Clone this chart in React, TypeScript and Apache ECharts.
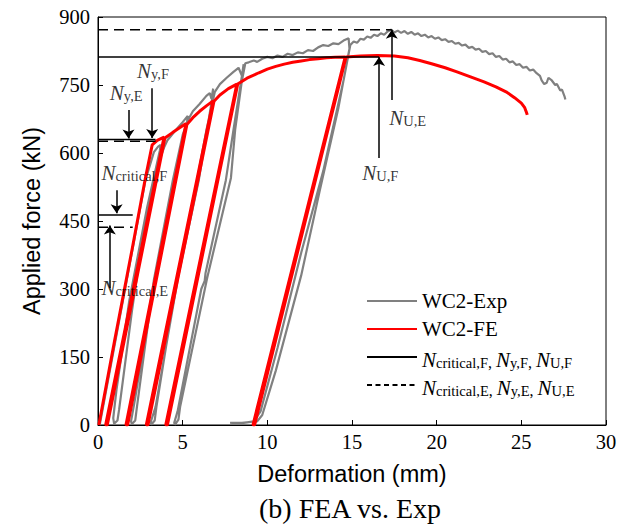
import React, { useEffect, useRef } from "react";
import * as echarts from "echarts";

// ---- axis ticks ----
const xTicks = [0, 5, 10, 15, 20, 25, 30];
const yTicks = [0, 150, 300, 450, 600, 750, 900];

// ---- experimental curve WC2-Exp (deformation mm, force kN) ----
const expCurve: [number, number][] = [
  [0.1, 0], [0.3, 40], [1.1, 200], [2.0, 380], [2.8, 540], [3.3, 602], [3.55, 614], [3.7, 618],
  [3.65, 605], [2.9, 480], [1.85, 275], [1.1, 80], [0.9, 15], [0.95, 3], [1.15, 10],
  [1.25, 35], [2.0, 250], [2.35, 340], [3.0, 480], [3.4, 560], [3.9, 612], [4.1, 628], [4.4, 642], [4.7, 655], [5.0, 668], [5.3, 682],
  [5.25, 664], [4.45, 540], [3.35, 330], [2.2, 60], [1.95, 8], [2.0, 2], [2.2, 10],
  [2.3, 40], [3.3, 320], [4.42, 540], [5.0, 640], [5.35, 675], [5.6, 692], [6.0, 708], [6.4, 726], [6.6, 732], [6.7, 720], [6.8, 742],
  [6.75, 722], [5.95, 540], [4.75, 330], [3.4, 40], [3.1, 5], [3.15, 1], [3.35, 10],
  [3.45, 40], [4.65, 320], [5.85, 540], [6.4, 650], [6.9, 735], [7.2, 752], [7.6, 766], [8.0, 779], [8.3, 788], [8.5, 770], [8.6, 796],
  [8.5, 770], [8.0, 651], [7.55, 540], [6.35, 335], [6.3, 318], [6.1, 300], [4.7, 30], [4.5, 5], [4.55, 1], [4.75, 12],
  [4.85, 40], [6.45, 325], [7.85, 545], [8.1, 651], [8.5, 760], [8.7, 798], [8.9, 800], [9.2, 804], [9.4, 801], [9.7, 808],
  [10, 812], [10.3, 809], [10.6, 815], [10.9, 812], [11.2, 819], [11.5, 816], [11.8, 822], [12.1, 820], [12.4, 827],
  [12.7, 825], [13, 833], [13.3, 838], [13.6, 836], [13.9, 842], [14.2, 840], [14.5, 848], [14.8, 853],
  [14.85, 830], [14.2, 700], [13.1, 518], [12, 330], [10.5, 120], [9.7, 22], [9.4, 8], [8.5, 5], [7.8, 5], [8.3, 3], [9.2, 8],
  [9.6, 30], [10.6, 170], [12, 380], [13.3, 560], [14.5, 760], [14.9, 838], [15.1, 846], [15.3, 843], [15.5, 852],
  [15.7, 850], [15.9, 857], [16.1, 854], [16.3, 861], [16.5, 858], [16.7, 864], [16.9, 861], [17.1, 868], [17.3, 872],
  [17.5, 866], [17.7, 870], [17.9, 865], [18.1, 869], [18.3, 863], [18.5, 867], [18.7, 861], [18.9, 864], [19.1, 858],
  [19.3, 861], [19.5, 855], [19.7, 858], [19.9, 852], [20.1, 855], [20.3, 849], [20.5, 851], [20.7, 845], [20.9, 847],
  [21.1, 841], [21.3, 843], [21.5, 837], [21.7, 839], [21.9, 832], [22.1, 834], [22.3, 828], [22.5, 830], [22.7, 823],
  [22.9, 825], [23.1, 818], [23.3, 820], [23.5, 812], [23.7, 814], [23.9, 806], [24.1, 808], [24.3, 800], [24.5, 802],
  [24.7, 794], [24.9, 796], [25.1, 788], [25.3, 790], [25.5, 782], [25.7, 784], [25.9, 776], [26.1, 770], [26.2, 760],
  [26.35, 752], [26.5, 755], [26.6, 766], [26.8, 760], [27.0, 750], [27.1, 752], [27.3, 738], [27.4, 740], [27.55, 725],
  [27.6, 718],
];

// ---- finite element curve WC2-FE ----
const feCurve: [number, number][] = [
  [0.05, 0], [1.0, 190], [2.0, 385], [2.8, 545], [3.2, 618], [3.5, 628], [3.9, 635],
  [0.45, 0], [0.55, 0], [3.95, 633], [4.4, 645], [4.8, 655], [5.2, 665],
  [1.65, 0], [1.75, 0], [5.25, 663], [5.6, 678], [6.0, 692], [6.4, 704], [6.8, 715],
  [2.85, 0], [2.95, 0], [6.85, 714], [7.2, 728], [7.7, 742], [8.2, 752],
  [4.0, 0], [4.1, 0], [8.25, 752], [8.8, 765], [9.5, 777], [10, 785], [10.5, 791], [11, 796], [11.5, 800], [12, 803],
  [12.5, 806], [13, 808], [13.5, 810], [14, 811], [14.6, 812],
  [9.15, 0], [9.25, 0], [14.65, 812], [15.5, 814], [16.5, 815], [17.5, 814], [18.3, 810], [19, 804], [19.7, 797],
  [20.5, 788], [21.2, 779], [22, 768], [22.8, 757], [23.5, 746], [24.1, 735], [24.6, 722], [25, 710], [25.2, 700],
  [25.3, 690], [25.35, 684],
];

// ---- reference force levels (FE: solid, Exp: dashed) ----
const feRefLines: [number, number][][] = [
  [[0, 812], [16.6, 812]],
  [[0, 630], [3.4, 630]],
  [[0, 463], [2.05, 463]],
];
const expRefLines: [number, number][][] = [
  [[0, 872], [17.35, 872]],
  [[0, 626], [3.4, 626]],
  [[0, 436], [2.05, 436]],
];

// ---- arrows: [from, to] ----
const arrows: [number, number][][] = [
  [[1.8, 695], [1.8, 632]],
  [[3.2, 743], [3.2, 633]],
  [[1.1, 518], [1.1, 467]],
  [[0.7, 302], [0.7, 440]],
  [[16.6, 589], [16.6, 812]],
  [[17.35, 717], [17.35, 872]],
];

// ---- annotation labels: [x, y, main, subscript] ----
const annotations: [number, number, string, string][] = [
  [2.3, 758, "N", "y,F"],
  [0.7, 709, "N", "y,E"],
  [0.2, 533, "N", "critical,F"],
  [0.2, 279, "N", "critical,E"],
  [15.6, 533, "N", "U,F"],
  [17.2, 655, "N", "U,E"],
];

const legendNames = ["WC2-Exp", "WC2-FE", "FE reference", "Exp reference"];
const legendRich: Record<string, string> = {
  "WC2-Exp": "WC2-Exp",
  "WC2-FE": "WC2-FE",
  "FE reference": "{n|N}{s|critical,F}{c|, }{n|N}{s|y,F}{c|, }{n|N}{s|U,F}",
  "Exp reference": "{n|N}{s|critical,E}{c|, }{n|N}{s|y,E}{c|, }{n|N}{s|U,E}",
};

const SERIF = "Liberation Serif";
const SANS = "Liberation Sans";

const rich = {
  n: { fontFamily: SERIF, fontStyle: "italic", fontSize: 21, lineHeight: 26, verticalAlign: "bottom", color: "#000" },
  s: { fontFamily: SERIF, fontSize: 14.5, lineHeight: 14, verticalAlign: "bottom", color: "#000" },
  c: { fontFamily: SERIF, fontSize: 16, lineHeight: 14, verticalAlign: "bottom", color: "#000" },
};

export default function App() {
  const ref = useRef<HTMLDivElement>(null);
  useEffect(() => {
    if (!ref.current) return;
    const chart = echarts.init(ref.current, null, { renderer: "svg" });
    const series: any[] = [
      {
        name: "WC2-Exp",
        type: "line",
        data: expCurve,
        symbol: "none",
        lineStyle: { color: "#808080", width: 2.2 },
        itemStyle: { color: "#808080" },
        z: 2,
      },
      {
        name: "WC2-FE",
        type: "line",
        data: feCurve,
        symbol: "none",
        lineStyle: { color: "#ff0000", width: 3 },
        itemStyle: { color: "#ff0000" },
        z: 3,
      },
      // legend-only entry giving the short-dash legend sample
      {
        name: "Exp reference",
        type: "line",
        data: [],
        symbol: "none",
        lineStyle: { color: "#000", width: 1.5, type: [5, 3.5] },
        itemStyle: { color: "#000" },
      },
    ];
    feRefLines.forEach((seg) =>
      series.push({
        name: "FE reference",
        type: "line",
        data: seg,
        symbol: "none",
        lineStyle: { color: "#000", width: 1.5 },
        itemStyle: { color: "#000" },
        z: 4,
      })
    );
    expRefLines.forEach((seg) =>
      series.push({
        name: "Exp reference",
        type: "line",
        data: seg,
        symbol: "none",
        lineStyle: { color: "#000", width: 1.5, type: [10, 6] },
        itemStyle: { color: "#000" },
        z: 4,
      })
    );
    series.push({
      name: "labels",
      type: "scatter",
      symbolSize: 0,
      z: 5,
      data: annotations.map(([x, y, m, s]) => ({
        value: [x, y],
        label: { formatter: `{n|${m}}{s|${s}}` },
      })),
      label: {
        show: true,
        position: [0, 0],
        align: "left",
        verticalAlign: "bottom",
        rich,
      },
      markLine: {
        silent: true,
        symbol: ["none", "arrow"],
        symbolSize: 9,
        lineStyle: { color: "#000", width: 1.5, type: "solid" },
        label: { show: false },
        data: arrows.map(([a, b]) => [{ coord: a }, { coord: b }]),
      },
    });

    chart.setOption({
      animation: false,
      backgroundColor: "#fff",
      title: {
        text: "(b) FEA vs. Exp",
        left: 259,
        top: 494,
        padding: 0,
        textStyle: { fontFamily: SERIF, fontSize: 28, fontWeight: "normal", color: "#000" },
      },
      grid: { left: 98, right: 22, top: 17, bottom: 100, show: true, borderColor: "#000", borderWidth: 1 },
      legend: {
        orient: "vertical",
        left: 366,
        top: 288,
        padding: 0,
        itemWidth: 50,
        itemHeight: 14,
        itemGap: 2,
        selectedMode: false,
        itemStyle: { opacity: 0 },
        data: legendNames,
        formatter: (name: string) => legendRich[name] || name,
        textStyle: { fontFamily: SERIF, fontSize: 21, color: "#000", lineHeight: 26, rich },
      },
      xAxis: {
        type: "value",
        min: xTicks[0],
        max: xTicks[xTicks.length - 1],
        interval: xTicks[1] - xTicks[0],
        name: "Deformation (mm)",
        nameLocation: "middle",
        nameGap: 37,
        nameTextStyle: { fontFamily: SANS, fontSize: 23.5, color: "#000" },
        axisLine: { show: true, lineStyle: { color: "#000", width: 1 } },
        axisTick: { inside: true, length: 5, lineStyle: { color: "#000" } },
        axisLabel: { color: "#000", fontFamily: SERIF, fontSize: 20.5, margin: 6 },
        splitLine: { show: false },
      },
      yAxis: {
        type: "value",
        min: yTicks[0],
        max: yTicks[yTicks.length - 1],
        interval: yTicks[1] - yTicks[0],
        name: "Applied force (kN)",
        nameLocation: "middle",
        nameGap: 54,
        nameTextStyle: { fontFamily: SANS, fontSize: 23.5, color: "#000" },
        axisLine: { show: true, lineStyle: { color: "#000", width: 1 } },
        axisTick: { inside: true, length: 5, lineStyle: { color: "#000" } },
        axisLabel: { color: "#000", fontFamily: SERIF, fontSize: 20.5, margin: 8 },
        splitLine: { show: false },
      },
      series,
    });
    return () => chart.dispose();
  }, []);
  return (
    <div
      ref={ref}
      style={{ position: "fixed", left: 0, top: 0, width: 628, height: 525, background: "#fff" }}
    />
  );
}
